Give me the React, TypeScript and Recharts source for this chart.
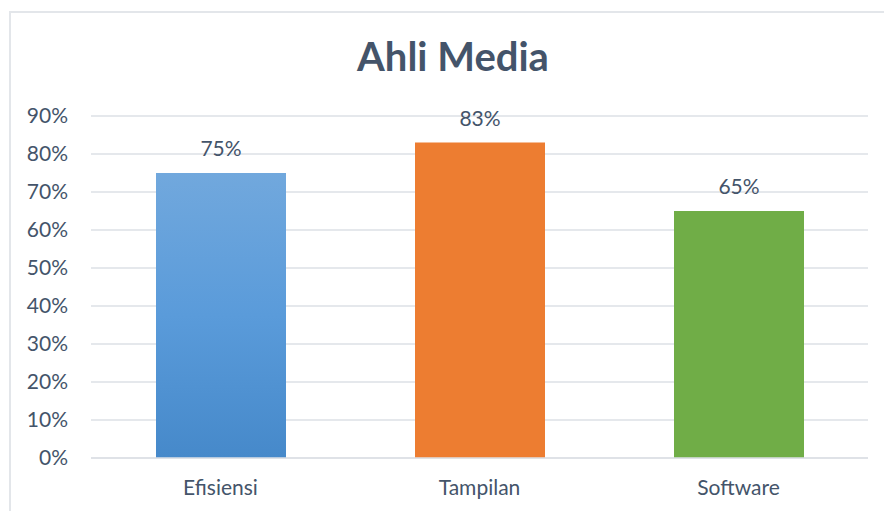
import React from "react";
import { BarChart, Bar, XAxis, YAxis, CartesianGrid, LabelList, Cell } from "recharts";

const categories = ["Efisiensi", "Tampilan", "Software"];
const values = [0.75, 0.83, 0.65];
const yTicks = [0, 0.1, 0.2, 0.3, 0.4, 0.5, 0.6, 0.7, 0.8, 0.9];
const barFills = ["url(#blueGrad)", "#ED7D31", "#70AD47"];
const title = "Ahli Media";

const data = categories.map((name, i) => ({ name, value: values[i] }));
const pct = (v: number) => `${Math.round(v * 100)}%`;
const FONT = "Lato, 'Open Sans', sans-serif";

export default function App() {
  return (
    <div style={{ position: "absolute", left: 0, top: 0, width: 884, height: 511, overflow: "hidden", background: "#fff" }}>
      <div style={{ position: "absolute", left: 9, top: 11, width: 900, height: 520, border: "2px solid #E3E6EA", boxSizing: "border-box" }} />
      <div style={{ position: "absolute", left: 0, top: 32, width: 906, textAlign: "center", fontFamily: FONT, fontWeight: 700, fontSize: 40, color: "#44546A" }}>
        {title}
      </div>
      <div style={{ position: "absolute", left: 0, top: 0 }}>
        <BarChart width={884} height={511} data={data} margin={{ top: 116, right: 16, bottom: 0, left: 0 }} barCategoryGap="25%">
          <defs>
            <linearGradient id="blueGrad" x1="0" y1="0" x2="0" y2="1">
              <stop offset="0%" stopColor="#71A8DD" />
              <stop offset="50%" stopColor="#5A9BDA" />
              <stop offset="100%" stopColor="#4689CA" />
            </linearGradient>
          </defs>
          <CartesianGrid vertical={false} stroke="#DDE1E6" strokeWidth={1.5} />
          <XAxis dataKey="name" axisLine={{ stroke: "#DDE1E6", strokeWidth: 1.5 }} tickLine={false} tickSize={0} tickMargin={22} height={53}
            tick={{ fill: "#44546A", fontSize: 21, fontFamily: FONT }} />
          <YAxis domain={[0, 0.9]} ticks={yTicks} tickFormatter={pct} axisLine={false} tickLine={false} tickSize={0} tickMargin={23} width={91}
            tick={{ fill: "#44546A", fontSize: 21, fontFamily: FONT }} />
          <Bar dataKey="value" isAnimationActive={false} barSize={130}>
            {data.map((d, i) => <Cell key={d.name} fill={barFills[i]} />)}
            <LabelList dataKey="value" position="top" offset={17} formatter={(v: any) => pct(Number(v))}
              style={{ fill: "#44546A", fontSize: 21, fontFamily: FONT }} />
          </Bar>
        </BarChart>
      </div>
    </div>
  );
}
